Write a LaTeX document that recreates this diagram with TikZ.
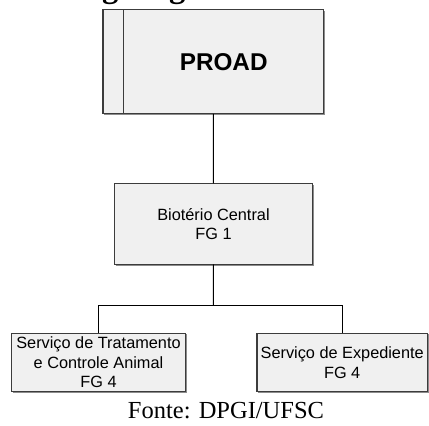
\documentclass[tikz,border=0pt]{standalone}
\usepackage{fontspec}
\setmainfont{Liberation Serif}
\newfontfamily\boxfont{Liberation Sans}

\definecolor{boxline}{RGB}{60,60,60}
\definecolor{boxfill}{RGB}{240,240,240}
\definecolor{boxshade}{RGB}{140,140,140}

\tikzset{
  boxframe/.style={draw=boxline, line width=1.1pt, fill=boxfill},
  boxshadow/.style={draw=boxshade, line width=1pt},
  boxtext/.style={inner sep=0pt, align=center,
    font=\boxfont\fontsize{16.3}{19.8}\selectfont},
  link/.style={draw=black, line width=1pt}
}

\begin{document}
\begin{tikzpicture}[x=1pt, y=1pt]
  \path[use as bounding box, fill=white] (0,0) rectangle (429,426);

  % title running off the top edge, only its descenders remain
  \begin{scope}
    \clip (0,0) rectangle (429,426);
    \node[anchor=base west, inner sep=0pt,
          font=\bfseries\fontsize{32.6}{36}\selectfont] (title) at (62,428.5) {Organograma};
  \end{scope}

  % soft shade along the right and bottom edges of each frame
  \draw[boxshadow] (104,311.3) -- (324.7,311.3) -- (324.7,415.3);
  \draw[boxshadow] (115.7,160.7) -- (313.3,160.7) -- (313.3,241.3);
  \draw[boxshadow] (12.5,33.7) -- (186.5,33.7) -- (186.5,91.7);
  \draw[boxshadow] (258,33.6) -- (428.4,33.6) -- (428.4,91.6);

  % frames of the chart
  \path[boxframe] (103,312.3) rectangle (323.7,416.3);
  \draw[draw=boxline, line width=1.1pt] (123.7,416.3) -- (123.7,312.3);
  \path[boxframe] (114.7,161.7) rectangle (312.3,242.3);
  \path[boxframe] (11.5,34.7) rectangle (185.5,92.7);
  \path[boxframe] (257,34.6) rectangle (427.4,92.6);

  % labels, sized to their frames
  \node[boxtext, minimum width=220.7pt, minimum height=104pt] (proad) at (213.3,364.3) {};
  \node[font=\boxfont\bfseries\fontsize{24.3}{28}\selectfont, inner sep=0pt] (proadtext) at (223.7,364.3) {PROAD};
  \node[boxtext, minimum width=197.6pt, minimum height=80.6pt] (bio) at (213.5,202)
    {Biotério Central\\FG 1};
  \node[boxtext, minimum width=174pt, minimum height=58pt] (sta) at (98.5,63.7)
    {Serviço de Tratamento\\e Controle Animal\\FG 4};
  \node[boxtext, minimum width=170.5pt, minimum height=58pt] (exp) at (342.2,63.6)
    {Serviço de Expediente\\FG 4};

  % connectors
  \coordinate (bar) at (213.3,120.3);
  \draw[link] (proad.south) -- (bio.north);
  \draw[link] (bio.south) -- (bar);
  \draw[link] (sta.north) |- (bar) -| (exp.north);

  % source line
  \node[anchor=base, inner sep=0pt, font=\fontsize{24.5}{28}\selectfont] (source) at (226,7.5)
    {Fonte: DPGI/UFSC};
\end{tikzpicture}
\end{document}
